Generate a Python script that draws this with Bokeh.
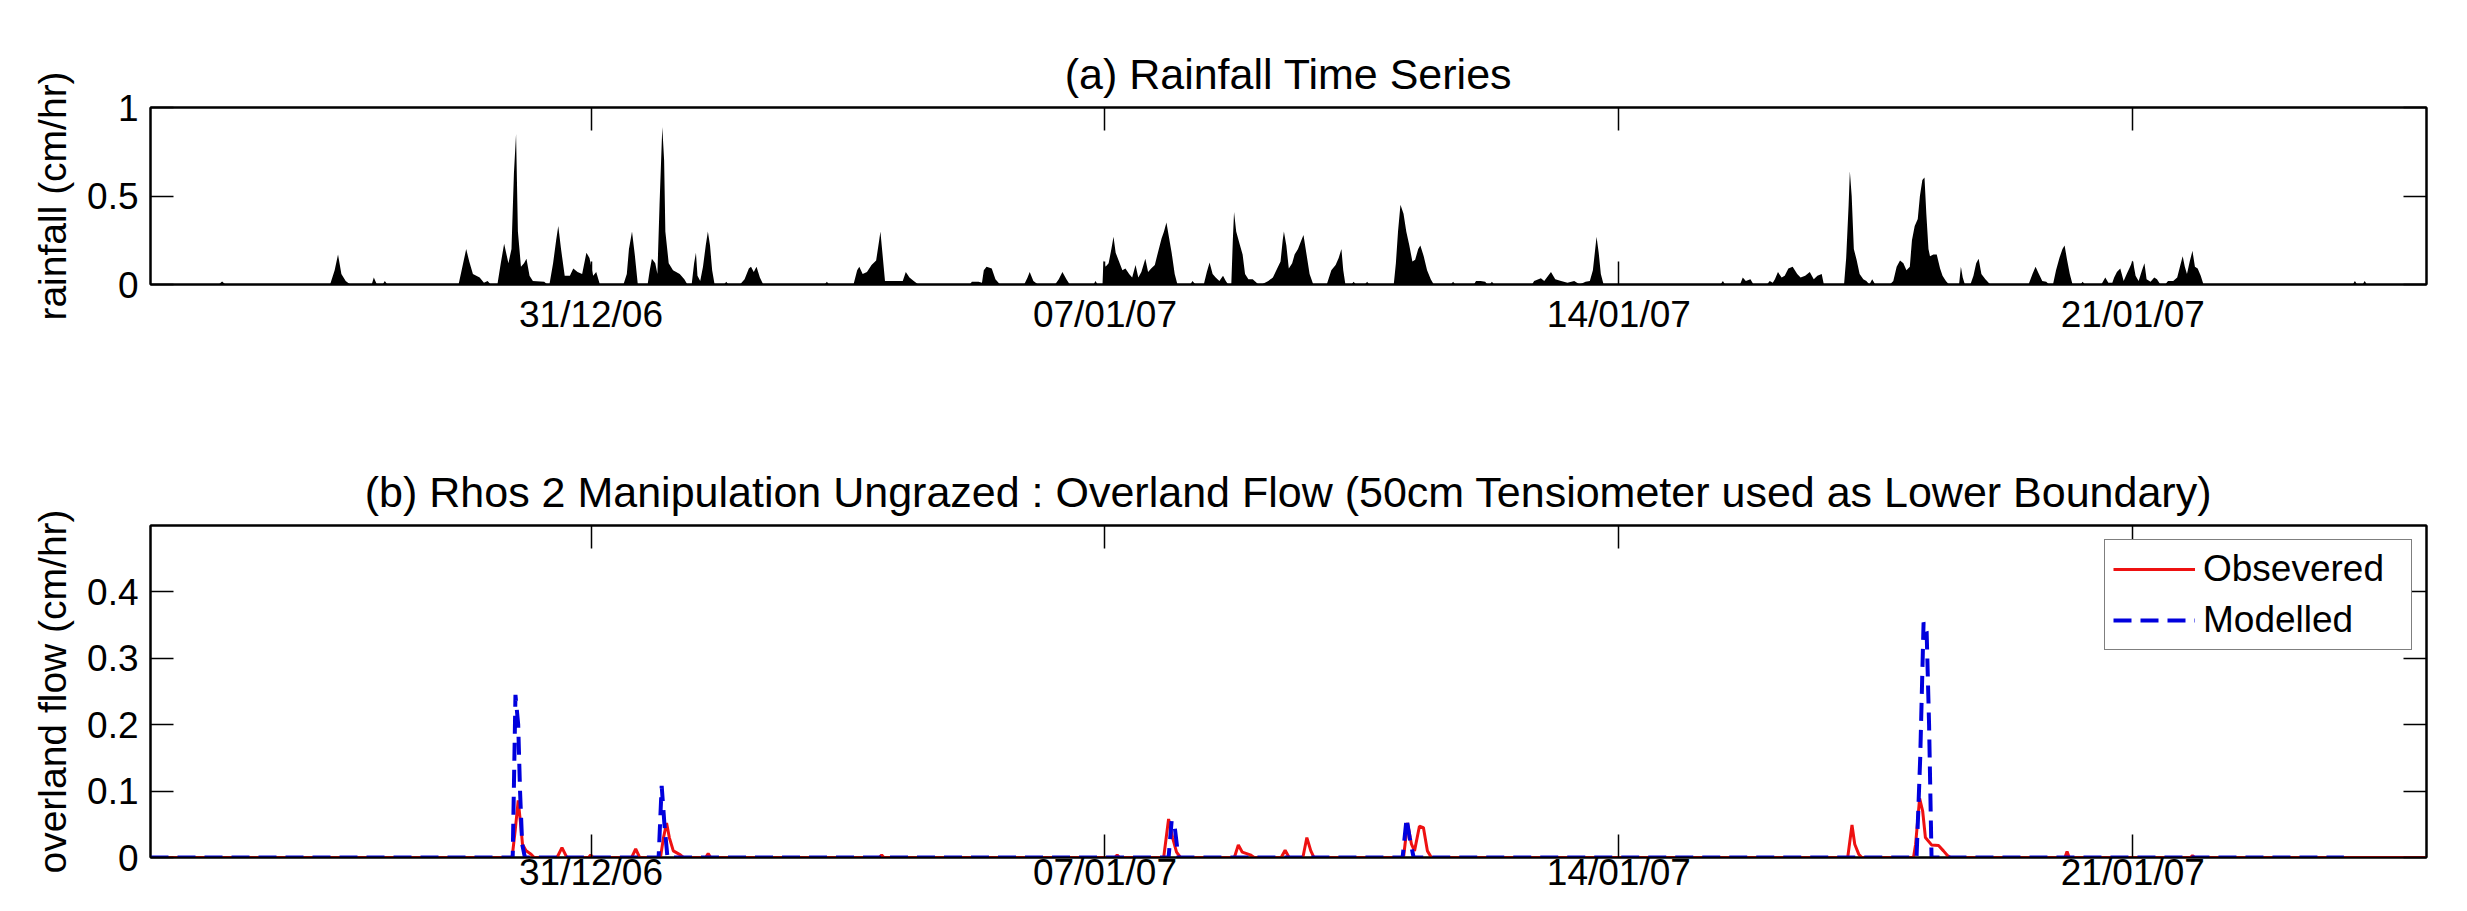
import pandas as pd
from bokeh.plotting import figure
from bokeh.layouts import column
from bokeh.models import (DatetimeAxis, LinearAxis, FixedTicker, DatetimeTickFormatter,
                          NumeralTickFormatter, Range1d)
from bokeh.embed import file_html
from bokeh.resources import INLINE

# ---------------- data ----------------
series_start = "2006-12-25 00:00"
series_end = "2007-01-25 00:00"
date_tick_labels = ["31/12/06", "07/01/07", "14/01/07", "21/01/07"]
rain_ticks = [0, 0.5, 1]
flow_ticks = [0, 0.1, 0.2, 0.3, 0.4]

# rainfall: hours since series_start, intensity (cm/hr)
rain_hours = [
    0, 22.3, 23.4, 24.5,
    58.7, 60.2, 61.3, 62.4, 63.8, 65.3,
    72.3, 73.0, 74.0, 75.9, 76.6, 77.4,
    100.7, 102.2, 103.2, 104.2, 105.4, 107.6, 109.0, 110.2, 111.2,
    113.4, 114.5, 115.6, 117.0, 118.0, 118.8, 119.5, 120.1, 121.1, 122.1, 122.9, 123.9, 125.0, 128.7, 129.7,
    130.4, 131.6, 132.6, 133.3, 134.2, 135.4, 137.1, 138.2, 139.6, 141.1, 142.5, 143.5, 144.7, 145.7, 146.9,
    154.6, 155.7, 156.4, 157.4, 158.3, 159.3,
    162.5, 163.2, 163.9, 165.0, 165.7, 166.4, 167.3, 167.9, 168.3, 169.4, 170.8, 173.0, 174.5, 175.5,
    176.9, 177.7, 178.3, 178.8, 179.7, 180.6, 181.5, 182.2, 182.9, 183.6, 184.4,
    187.5, 188.2, 188.9,
    192.7, 194.2, 195.6, 196.3, 197.2, 198.1, 199.2, 200.3,
    220.4, 221.1, 221.8,
    229.8, 231.0, 231.7, 232.8, 234.2, 235.7, 237.2, 238.2, 238.6, 239.3, 240.1, 245.9, 246.9, 248.1, 249.5, 251.0,
    267.8, 268.5, 270.7, 271.8, 272.4, 273.3, 275.0, 276.2, 277.7,
    285.6, 286.7, 287.4, 288.6, 290.1,
    295.7, 296.9, 298.1, 299.4, 300.5,
    308.3, 308.9, 309.6,
    311.2, 311.5, 312.2, 313.2, 314.1, 314.8, 315.5, 316.6, 317.7, 318.7, 319.9, 320.9, 322.0, 322.9, 323.9,
    325.2, 326.1, 327.1, 328.3, 329.3, 330.5, 331.3, 332.1, 332.9, 333.8, 334.8, 335.7,
    339.9, 340.6, 341.6,
    344.3, 345.3, 346.2, 347.2, 348.2, 349.4, 350.6, 351.5, 352.3,
    353.3, 353.8, 354.2, 354.9, 356.0, 357.0, 357.8, 358.9, 360.3, 362.2,
    363.2, 365.4, 366.9, 368.3, 369.4, 370.1, 370.5, 371.3, 372.1, 373.2, 374.0, 375.1, 376.2, 376.9, 377.9, 378.9, 380.1,
    384.5, 386.0, 387.4, 388.4, 389.3, 389.9, 390.6,
    392.6, 393.3, 394.0, 397.0, 397.7, 398.4,
    406.4, 407.1, 407.8, 408.6, 409.6, 410.5, 411.5, 412.5, 413.4, 414.4, 415.1, 416.2, 417.3, 418.5, 419.5,
    425.1, 425.8, 426.5,
    432.6, 433.3, 434.8, 436.3, 437.0, 437.8, 438.5, 439.2,
    451.6, 452.3, 454.5, 455.6, 457.8, 459.2, 461.1, 463.2, 465.4, 467.2, 469.1, 470.5, 471.5, 472.7, 473.4, 474.1, 475.0,
    513.2, 514.0, 514.7,
    519.6, 520.5, 521.5, 523.0, 524.0,
    528.4, 529.3, 530.3, 531.0, 532.0, 533.2, 534.2, 535.4, 536.8, 538.3, 539.4, 540.9, 542.4, 543.7, 544.9, 546.3, 547.0,
    553.6, 554.3, 555.1, 555.5, 556.1, 556.8, 557.7, 558.7, 559.9, 560.9, 561.9, 562.8, 563.8,
    568.6, 569.7, 570.8, 571.9, 573.0, 574.0, 575.1, 575.8, 576.7, 577.7, 578.4, 579.2, 579.9, 580.5, 581.2, 581.7,
    582.8, 583.9, 585.0, 585.8, 586.9, 587.9,
    591.2, 591.8, 592.4, 593.1,
    594.9, 595.9, 596.8, 597.6, 598.5, 599.8, 601.4,
    613.9, 615.2, 616.2, 617.3, 618.4, 619.7, 620.6,
    621.9, 622.9, 624.0, 625.0, 625.7, 626.5, 627.4, 628.3,
    630.9, 631.6, 632.3,
    637.7, 639.0, 640.0, 641.3, 641.9, 642.8, 643.9, 645.0, 646.0, 647.1, 648.0, 648.9, 649.9, 651.0, 651.8, 652.5,
    653.8, 655.0, 655.9, 657.0,
    658.6, 659.5, 661.2, 662.5, 663.4, 664.3, 665.0, 665.7, 666.6, 667.5, 668.3, 669.2, 670.2, 671.1,
    719.9, 720.6, 721.3, 723.1, 723.8, 724.5,
    744.0,
]
rain_cm_hr = [
    0, 0, 0.017, 0,
    0, 0.08, 0.17, 0.06, 0.02, 0,
    0, 0.04, 0, 0, 0.02, 0,
    0, 0.12, 0.20, 0.13, 0.06, 0.04, 0.01, 0.02, 0,
    0, 0.12, 0.23, 0.12, 0.20, 0.63, 0.85, 0.30, 0.10, 0.12, 0.145, 0.05, 0.02, 0.015, 0,
    0, 0.12, 0.25, 0.33, 0.20, 0.05, 0.05, 0.09, 0.07, 0.06, 0.18, 0.15, 0.05, 0.07, 0,
    0, 0.06, 0.20, 0.30, 0.17, 0,
    0, 0.08, 0.145, 0.12, 0.06, 0.45, 0.89, 0.70, 0.30, 0.12, 0.08, 0.06, 0.03, 0,
    0, 0.12, 0.18, 0.05, 0.02, 0.10, 0.22, 0.30, 0.22, 0.08, 0,
    0, 0.015, 0,
    0, 0.03, 0.09, 0.10, 0.07, 0.10, 0.04, 0,
    0, 0.015, 0,
    0, 0.08, 0.10, 0.06, 0.07, 0.11, 0.135, 0.25, 0.30, 0.17, 0.02, 0.02, 0.07, 0.04, 0.02, 0,
    0, 0.015, 0.015, 0.01, 0.08, 0.10, 0.09, 0.03, 0,
    0, 0.04, 0.07, 0.02, 0,
    0, 0.03, 0.07, 0.03, 0,
    0, 0.02, 0,
    0, 0.135, 0.10, 0.12, 0.20, 0.27, 0.18, 0.13, 0.08, 0.09, 0.06, 0.04, 0.11, 0.04, 0.07,
    0.145, 0.07, 0.09, 0.11, 0.18, 0.26, 0.30, 0.35, 0.27, 0.18, 0.06, 0,
    0, 0.02, 0,
    0, 0.07, 0.125, 0.06, 0.04, 0.02, 0.05, 0.02, 0,
    0, 0.25, 0.41, 0.30, 0.23, 0.17, 0.06, 0.03, 0.03, 0,
    0, 0.02, 0.04, 0.09, 0.13, 0.25, 0.30, 0.22, 0.09, 0.12, 0.17, 0.20, 0.25, 0.28, 0.17, 0.06, 0,
    0, 0.08, 0.11, 0.15, 0.20, 0.08, 0,
    0, 0.015, 0, 0, 0.015, 0,
    0, 0.12, 0.30, 0.45, 0.40, 0.30, 0.22, 0.13, 0.14, 0.20, 0.22, 0.16, 0.08, 0.03, 0,
    0, 0.015, 0,
    0, 0.02, 0.02, 0.015, 0, 0, 0.015, 0,
    0, 0.02, 0.035, 0.02, 0.07, 0.03, 0.02, 0.01, 0.02, 0, 0.015, 0.02, 0.08, 0.27, 0.18, 0.06, 0,
    0, 0.02, 0,
    0, 0.04, 0.02, 0.03, 0,
    0, 0.02, 0.01, 0.03, 0.07, 0.04, 0.05, 0.09, 0.10, 0.06, 0.04, 0.05, 0.07, 0.03, 0.05, 0.06, 0,
    0, 0.15, 0.45, 0.64, 0.50, 0.20, 0.14, 0.06, 0.03, 0.02, 0, 0.03, 0,
    0, 0.02, 0.10, 0.135, 0.12, 0.08, 0.10, 0.25, 0.33, 0.37, 0.50, 0.59, 0.605, 0.40, 0.20, 0.16,
    0.17, 0.17, 0.09, 0.05, 0.02, 0,
    0, 0.10, 0.04, 0,
    0, 0.05, 0.12, 0.145, 0.06, 0.03, 0,
    0, 0.06, 0.10, 0.06, 0.02, 0.015, 0,
    0, 0.08, 0.15, 0.20, 0.22, 0.14, 0.06, 0,
    0, 0.015, 0,
    0, 0.04, 0.01, 0.01, 0.04, 0.07, 0.09, 0.02, 0.06, 0.10, 0.135, 0.05, 0.02, 0.08, 0.12, 0.03,
    0.015, 0.04, 0.03, 0,
    0, 0.02, 0.02, 0.04, 0.10, 0.16, 0.10, 0.06, 0.13, 0.19, 0.10, 0.09, 0.05, 0,
    0, 0.02, 0, 0, 0.02, 0,
    0,
]

# overland flow: hours since series_start, flow (cm/hr)
obs_hours = [
    0, 118.2, 119.2, 120.2, 121.0, 121.6, 122.8, 124.4, 125.4,
    132.9, 134.5, 136.1,
    143.2, 143.9, 144.6,
    157.3, 158.6, 159.9,
    166.7, 167.7, 168.7, 169.6, 170.9, 173.2, 174.2,
    181.5, 182.3, 183.1,
    238.3, 239.0, 239.7,
    315.3, 316.0, 316.7,
    331.2, 332.8, 334.1, 335.4, 336.7,
    354.3, 355.6, 356.9, 359.5, 360.8,
    369.6, 370.9, 372.2,
    376.7, 378.0, 379.3, 380.3,
    409.6, 410.9, 412.2, 413.2, 414.8, 416.1, 417.4, 418.7,
    554.8, 556.2, 557.1, 558.4, 559.4,
    576.3, 577.0, 578.3, 579.3, 580.2, 582.2, 584.5, 586.1, 587.4, 588.4,
    625.8, 626.5, 627.2,
    666.8, 667.5, 668.2,
    744.0,
]
obs_flow = [
    0, 0, 0.04, 0.086, 0.05, 0.02, 0.01, 0.005, 0,
    0, 0.015, 0,
    0, 0.004, 0,
    0, 0.013, 0,
    0, 0.03, 0.052, 0.03, 0.01, 0.004, 0,
    0, 0.006, 0,
    0, 0.004, 0,
    0, 0.004, 0,
    0, 0.058, 0.03, 0.008, 0,
    0, 0.019, 0.008, 0.004, 0,
    0, 0.011, 0,
    0, 0.03, 0.01, 0,
    0, 0.052, 0.02, 0.01, 0.047, 0.045, 0.01, 0,
    0, 0.049, 0.02, 0.005, 0,
    0, 0.02, 0.089, 0.07, 0.03, 0.019, 0.018, 0.01, 0.003, 0,
    0, 0.009, 0,
    0, 0.003, 0,
    0,
]
mod_hours = [
    0, 118.4, 119.3, 120.2, 120.8, 121.5, 122.4,
    166.1, 167.1, 168.0, 169.0,
    332.8, 333.8, 334.7, 336.0,
    409.3, 410.6, 411.6, 412.9,
    577.3, 578.5, 579.6, 580.6, 581.4, 582.2,
    717.0,
]
mod_flow = [
    0, 0, 0.245, 0.20, 0.10, 0.02, 0,
    0, 0.108, 0.05, 0,
    0, 0.055, 0.05, 0,
    0, 0.059, 0.03, 0,
    0, 0.15, 0.354, 0.34, 0.20, 0,
    0,
]

# ---------------- helpers ----------------
t0 = pd.Timestamp(series_start)
t1 = pd.Timestamp(series_end)


def to_time(hours):
    return [t0 + pd.Timedelta(hours=h) for h in hours]


tick_ms = [pd.to_datetime(s, format="%d/%m/%y").value / 1e6 for s in date_tick_labels]
FONT = "Liberation Sans"
W = 2451
fmt = "%d/%m/%y"


def date_fmt():
    return DatetimeTickFormatter(microseconds=fmt, milliseconds=fmt, seconds=fmt, minsec=fmt,
                                 minutes=fmt, hourmin=fmt, hours=fmt, days=fmt, months=fmt,
                                 years=fmt)


def style(p, yticks, ylabel, xstand):
    p.xgrid.visible = False
    p.ygrid.visible = False
    p.outline_line_color = "black"
    p.outline_line_width = 2
    p.background_fill_color = "white"
    p.border_fill_color = "white"
    xt = FixedTicker(ticks=tick_ms)
    yt = FixedTicker(ticks=yticks)

    bx = p.below[0]
    ly = p.left[0]
    bx.ticker = xt
    bx.formatter = date_fmt()
    bx.major_label_standoff = xstand
    bx.major_label_text_font_size = "37px"
    ly.ticker = yt
    ly.formatter = NumeralTickFormatter(format="0.[0]")
    ly.major_label_standoff = 12
    ly.major_label_text_font_size = "37px"
    ly.axis_label = ylabel
    ly.axis_label_text_font = FONT
    ly.axis_label_text_font_size = "39px"
    ly.axis_label_text_font_style = "normal"
    ly.axis_label_text_color = "black"
    ly.axis_label_standoff = 10
    for ax in (bx, ly):
        ax.major_label_text_font = FONT
        ax.major_label_text_color = "black"

    # mirrored tick axes (ticks only, no labels)
    top = DatetimeAxis(ticker=xt, formatter=date_fmt(), major_label_standoff=0,
                       major_label_text_color=None, major_label_text_font_size="1px")
    right = LinearAxis(ticker=yt, major_label_standoff=0,
                       major_label_text_color=None, major_label_text_font_size="1px")
    p.add_layout(top, "above")
    p.add_layout(right, "right")
    for ax in (bx, ly, top, right):
        ax.major_tick_in = 23
        ax.major_tick_out = 0
        ax.major_tick_line_color = "black"
        ax.major_tick_line_width = 1.5
        ax.minor_tick_line_color = None
        ax.axis_line_color = "black"
        ax.axis_line_width = 2

    p.title.text_font = FONT
    p.title.text_font_size = "43px"
    p.title.text_font_style = "normal"
    p.title.text_color = "black"
    p.title.align = "center"
    p.title.standoff = 20


# ---------------- (a) rainfall ----------------
p1 = figure(width=W, height=404, x_axis_type="datetime",
            x_range=Range1d(t0, t1), y_range=Range1d(0, 1),
            output_backend="svg", toolbar_location=None,
            min_border_left=147, min_border_right=25, min_border_top=107, min_border_bottom=120,
            title="(a) Rainfall Time Series")
p1.varea(x=to_time(rain_hours), y1=0, y2=rain_cm_hr, fill_color="black")
style(p1, rain_ticks, "rainfall (cm/hr)", 9)

# ---------------- (b) overland flow ----------------
p2 = figure(width=W, height=491, x_axis_type="datetime",
            x_range=Range1d(t0, t1), y_range=Range1d(0, 0.5),
            output_backend="svg", toolbar_location=None,
            min_border_left=150, min_border_right=16, min_border_top=121, min_border_bottom=35,
            title="(b) Rhos 2 Manipulation Ungrazed : Overland Flow (50cm Tensiometer used as Lower Boundary)")
p2.line(to_time(obs_hours), obs_flow, line_color="#ee1111", line_width=3, legend_label="Obsevered")
p2.line(to_time(mod_hours), mod_flow, line_color="#0000dd", line_width=4, line_dash="18 9",
        legend_label="Modelled")
# labels sit low in the reference (cut by the image edge); keep them inside the page
style(p2, flow_ticks, "overland flow (cm/hr)", -6)

lg = p2.legend[0]
lg.location = "top_right"
lg.margin = 14
lg.padding = 8
lg.spacing = 9
lg.label_text_font = FONT
lg.label_text_font_size = "37px"
lg.label_text_color = "black"
lg.glyph_width = 82
lg.glyph_height = 40
lg.label_standoff = 8
lg.label_width = 200
lg.border_line_color = "black"
lg.border_line_width = 1.5
lg.background_fill_color = "white"
lg.background_fill_alpha = 1

layout = column(p1, p2)
open("out.html", "w").write(file_html(layout, INLINE))
